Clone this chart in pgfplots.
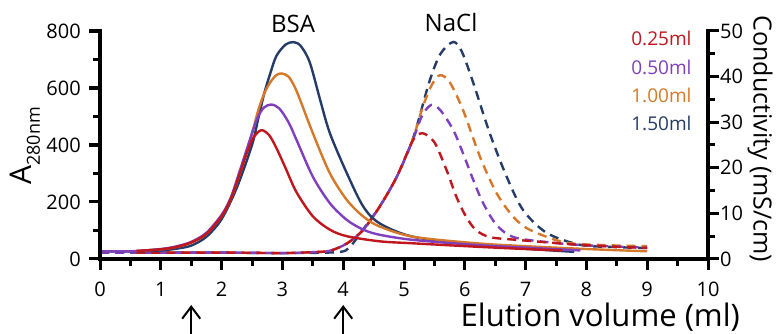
\documentclass[border=0pt]{standalone}
\usepackage{pgfplots}
\pgfplotsset{compat=1.18}
\usetikzlibrary{arrows.meta}
\usepackage{fontspec}
\setmainfont{Open Sans}
\definecolor{cred}{RGB}{192,22,30}
\definecolor{cpur}{RGB}{128,64,190}
\definecolor{cora}{RGB}{214,120,42}
\definecolor{cblu}{RGB}{38,60,104}
\pgfplotsset{
 every axis/.append style={
  tick align=outside,
  major tick length=11pt, minor tick length=7pt,
  axis line style={line width=3.5pt},
  every tick/.append style={draw=black, line width=3pt},
 },
 common/.style={
  scale only axis, width=608pt, height=228pt,
  at={(100pt,75pt)}, anchor=south west,
  xmin=0, xmax=10,
  clip=false,
  ticklabel style={font=\fontsize{20}{23}\selectfont},
  /pgf/number format/assume math mode=true,
 },
 sol/.style={line width=2.4pt, smooth, tension=0.5, no markers},
 das/.style={line width=2.4pt, smooth, tension=0.5, no markers, dash pattern=on 9pt off 6pt},
}
\begin{document}
\begin{tikzpicture}
\path[use as bounding box] (0,0) rectangle (776pt,334pt);
\begin{axis}[common,
  axis y line*=right, axis x line=none,
  ymin=0, ymax=50,
  ytick={0,10,...,50}, minor ytick={5,15,...,45},
  yticklabel style={inner sep=1pt, xshift=0pt},
]
\addplot[das, cblu] coordinates {(0,1.4) (1,1.4) (2,1.4) (3,1.3) (3.9,1.5) (4.1,2.5) (4.3,6.0) (4.6,11.5) (4.88,18.0) (5.15,26.5) (5.42,39) (5.6,45) (5.81,47.6) (5.95,45.5) (6.14,38.6) (6.41,27.6) (6.69,18.0) (6.96,10.7) (7.35,5.7) (7.9,3.1) (8.5,2.6) (9,2.4)};
\addplot[das, cora] coordinates {(0.6,1.4) (2,1.4) (3,1.3) (3.5,1.5) (3.78,1.8) (4.06,3.4) (4.33,6.4) (4.6,11.5) (4.88,18.0) (5.15,26.5) (5.3,33) (5.45,38) (5.59,40.3) (5.75,38.8) (5.97,32.7) (6.25,22.4) (6.52,14.5) (6.8,9.2) (7.07,6.4) (7.62,3.7) (8.17,3.1) (9,2.8)};
\addplot[das, cpur] coordinates {(0,1.4) (2,1.4) (3,1.3) (3.5,1.5) (3.78,1.8) (4.06,3.4) (4.33,6.4) (4.6,11.5) (4.88,18.0) (5.15,26.3) (5.3,31.5) (5.45,33.8) (5.6,32.6) (5.81,28.3) (5.97,23.2) (6.14,17.3) (6.3,12.3) (6.52,7.5) (6.8,4.8) (7.35,3.7) (8,3.0) (9,2.5)};
\addplot[das, cred] coordinates {(0.6,1.4) (2,1.4) (3,1.3) (3.5,1.5) (3.78,1.8) (4.06,3.4) (4.33,6.4) (4.6,11.5) (4.88,18.0) (5.15,26.1) (5.3,27.6) (5.5,25.6) (5.7,19.5) (5.86,13.7) (6.02,9.3) (6.18,6.4) (6.41,4.8) (6.85,4.2) (7.5,3.5) (8,3.0) (9,2.4)};
\end{axis}
\begin{axis}[common,
  axis x line*=bottom, axis y line*=left,
  ymin=0, ymax=800,
  xtick={0,...,10}, minor xtick={0.5,1.5,...,9.5},
  ytick={0,200,...,800}, minor ytick={100,300,500,700},
  yticklabel style={inner sep=1pt, xshift=-7pt},
  xticklabel style={inner sep=1pt, yshift=-11pt},
]
\addplot[sol, cblu] coordinates {(0,27) (0.5,27) (1.0,30) (1.25,36) (1.5,47) (1.75,78) (2.0,140) (2.25,250) (2.5,400) (2.6,490) (2.7,580) (2.8,651) (2.9,712) (3.05,752) (3.18,761) (3.3,748) (3.45,690) (3.62,559) (3.78,442) (4.06,301) (4.33,184) (4.6,125) (5.15,78) (6.2,49) (7.0,36) (7.8,25)};
\addplot[sol, cora] coordinates {(0.6,28) (1.0,34) (1.25,42) (1.5,57) (1.75,88) (2.0,150) (2.15,210) (2.3,300) (2.5,440) (2.6,520) (2.7,580) (2.8,620) (2.9,645) (2.99,651) (3.1,640) (3.2,605) (3.29,559) (3.5,442) (3.78,301) (4.06,207) (4.33,149) (4.6,114) (5.15,78) (6.2,55) (7.0,45) (8.0,35) (9.0,27)};
\addplot[sol, cpur] coordinates {(0,27) (0.5,27) (1.0,35) (1.25,44) (1.5,60) (1.75,92) (2.0,155) (2.15,215) (2.3,310) (2.52,454) (2.6,500) (2.7,532) (2.82,542) (2.95,528) (3.1,480) (3.23,419) (3.5,289) (3.78,196) (4.06,137) (4.33,103) (4.6,85) (5.15,67) (6.2,49) (7.0,40) (7.9,30)};
\addplot[sol, cred] coordinates {(0.6,28) (1.0,34) (1.25,42) (1.5,58) (1.75,88) (2.0,150) (2.15,210) (2.3,300) (2.42,375) (2.52,425) (2.65,452) (2.78,435) (2.9,390) (3.05,320) (3.23,235) (3.5,150) (3.78,103) (4.06,80) (4.6,62) (5.15,55) (6.2,43) (7.0,35) (7.6,30)};
\end{axis}
% axis lines and ticks
\begin{scope}[line width=3pt, black]
\draw[line width=3.5pt] (98.25pt,75pt) -- (709.75pt,75pt);
\draw[line width=3.5pt] (100pt,73.25pt) -- (100pt,304.5pt);
\draw[line width=3.5pt] (708pt,73.25pt) -- (708pt,304.5pt);
\foreach \i in {0,...,10}{\pgfmathsetmacro\xx{100+60.8*\i}\draw (\xx pt,75pt) -- (\xx pt,64pt);}
\foreach \i in {0,...,9}{\pgfmathsetmacro\xx{100+60.8*(\i+0.5)}\draw (\xx pt,75pt) -- (\xx pt,68pt);}
\foreach \i in {0,...,4}{\pgfmathsetmacro\yy{75+57*\i}\draw (100pt,\yy pt) -- (89pt,\yy pt);}
\foreach \i in {0,...,3}{\pgfmathsetmacro\yy{75+57*(\i+0.5)}\draw (100pt,\yy pt) -- (93pt,\yy pt);}
\foreach \i in {0,...,5}{\pgfmathsetmacro\yy{75+45.6*\i}\draw (708pt,\yy pt) -- (719pt,\yy pt);}
\foreach \i in {0,...,4}{\pgfmathsetmacro\yy{75+45.6*(\i+0.5)}\draw (708pt,\yy pt) -- (715pt,\yy pt);}
\end{scope}
% annotations
\node[font=\fontsize{24}{28}\selectfont] at (293pt,310pt) {BSA};
\node[font=\fontsize{24}{28}\selectfont] at (451pt,311pt) {NaCl};
\node[anchor=base east, inner sep=0pt, font=\fontsize{31}{34}\selectfont] at (740pt,7pt) {Elution volume (ml)};
\node[rotate=90, font=\fontsize{30}{32}\selectfont] at (25pt,188pt) {A\raisebox{-0.28em}{\fontsize{18}{19}\selectfont 280nm}};
\node[rotate=-90, font=\fontsize{25}{29}\selectfont] at (760pt,195pt) {Conductivity (mS/cm)};
\begin{scope}[font=\fontsize{19}{23}\selectfont]
\node[anchor=east, text=cred] at (695pt,296pt) {0.25ml};
\node[anchor=east, text=cpur] at (695pt,267pt) {0.50ml};
\node[anchor=east, text=cora] at (695pt,239pt) {1.00ml};
\node[anchor=east, text=cblu] at (695pt,211pt) {1.50ml};
\end{scope}
\draw[line width=2pt, -{Straight Barb[length=12pt,width=18pt,line width=2pt]}] (191.2pt,0pt) -- (191.2pt,29pt);
\draw[line width=2pt, -{Straight Barb[length=12pt,width=18pt,line width=2pt]}] (343.2pt,0pt) -- (343.2pt,29pt);
\end{tikzpicture}
\end{document}
